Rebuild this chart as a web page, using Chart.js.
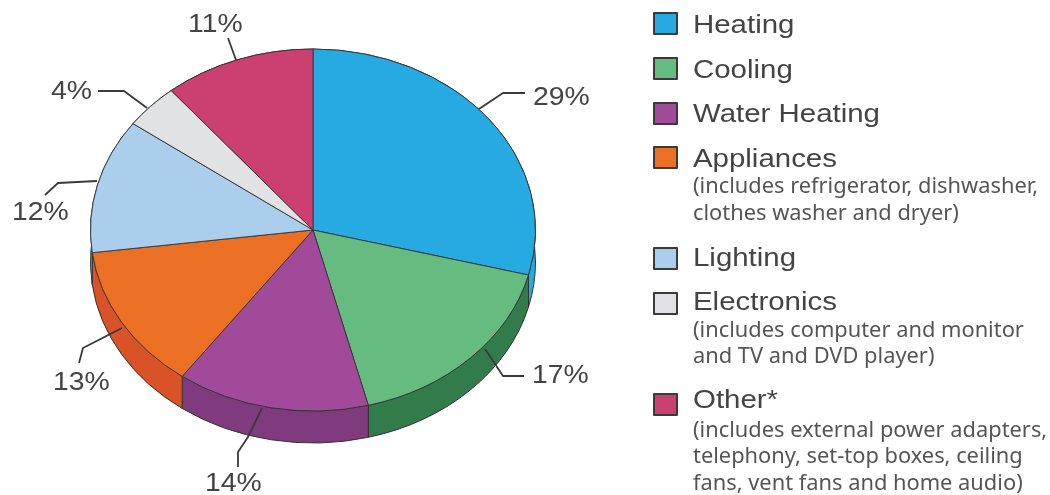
<!DOCTYPE html>
<html>
<head>
<meta charset="utf-8">
<title>Home energy use</title>
<script src="https://cdn.jsdelivr.net/npm/chart.js@4"></script>
<style>
  html, body { margin: 0; padding: 0; background: #fff; }
  #wrap { position: relative; width: 1050px; height: 495px; }
</style>
</head>
<body>
<div id="wrap"><canvas id="pie" width="1050" height="495"></canvas></div>
<script>
const categories = ['Heating', 'Cooling', 'Water Heating', 'Appliances', 'Lighting', 'Electronics', 'Other*'];
const values = [29, 17, 14, 13, 12, 4, 11];
const notes = [
    [],
    [],
    [],
    ['(includes refrigerator, dishwasher,', 'clothes washer and dryer)'],
    [],
    ['(includes computer and monitor', 'and TV and DVD player)'],
    ['(includes external power adapters,', 'telephony, set-top boxes, ceiling', 'fans, vent fans and home audio)']
];
const topColors = ['#27a9e1', '#66bc80', '#a04a99', '#ec7023', '#abceed', '#e0e2e4', '#cc4071'];
const sideColors = ['#27a9e1', '#327c4c', '#7f3b7e', '#da5227', '#5f9fcf', '#b0b2b4', '#96305a'];

// layout of the annotations
const squash = 181 / 222.5;
const depth = 32;
const stretch = 1.09;
const legendStretch = 1.11;
const noteStretch = 1.04;
const labelPos = [[533, 105], [532, 383], [205, 491], [53, 390], [12, 220], [51, 99], [188, 32]];
const leaders = [
    [[479, 109], [503, 93], [525, 93]],
    [[485, 349], [503, 376], [524, 376]],
    [[262, 408], [248, 437], [238, 452], [238, 467]],
    [[122, 328], [83, 348], [79, 363]],
    [[97, 181], [58, 183], [45, 195]],
    [[147, 108], [124, 91], [98, 91]],
    [[236, 60], [228, 38]]
];
const swatchTop = [12, 57, 102, 146, 247, 292, 393];
const legendBase = [32.5, 77.5, 122, 167, 266, 310, 408];
const noteBase = [[], [], [], [193, 220], [], [337, 363], [437, 463, 490]];

function stretchedText(ctx, text, x, y, sx) {
    ctx.save();
    ctx.translate(x, y);
    ctx.scale(sx, 1);
    ctx.fillText(text, 0, 0);
    ctx.restore();
}

const pieShape = {
    id: 'pieShape',
    beforeDatasetsDraw(chart) {
        const ctx = chart.ctx;
        const arcs = chart.getDatasetMeta(0).data;
        // side wall of the pie, hidden behind the top except at the front
        arcs.forEach((arc, i) => {
            const rx = arc.outerRadius;
            const ry = rx * squash;
            ctx.beginPath();
            ctx.ellipse(arc.x, arc.y + depth, rx, ry, 0, arc.startAngle, arc.endAngle);
            ctx.ellipse(arc.x, arc.y, rx, ry, 0, arc.endAngle, arc.startAngle, true);
            ctx.closePath();
            ctx.fillStyle = sideColors[i];
            ctx.fill();
            ctx.lineWidth = 1;
            ctx.strokeStyle = '#333';
            ctx.stroke();
        });
        const first = arcs[0];
        ctx.save();
        ctx.translate(first.x, first.y);
        ctx.scale(1, squash);
        ctx.translate(-first.x, -first.y);
    },
    afterDatasetsDraw(chart) {
        const ctx = chart.ctx;
        ctx.restore();

        // leader lines
        ctx.strokeStyle = '#3a3a3a';
        ctx.lineWidth = 1.8;
        ctx.lineJoin = 'round';
        leaders.forEach(line => {
            ctx.beginPath();
            line.forEach((p, i) => i ? ctx.lineTo(p[0], p[1]) : ctx.moveTo(p[0], p[1]));
            ctx.stroke();
        });

        // percent labels
        ctx.textAlign = 'left';
        ctx.textBaseline = 'alphabetic';
        ctx.fillStyle = '#444';
        ctx.font = '26px "Liberation Sans"';
        values.forEach((v, i) => stretchedText(ctx, v + '%', labelPos[i][0], labelPos[i][1], stretch));

        // legend
        categories.forEach((name, i) => {
            ctx.fillStyle = topColors[i];
            ctx.strokeStyle = '#3a3a3a';
            ctx.lineWidth = 2;
            ctx.fillRect(654, swatchTop[i] + 1, 23, 21);
            ctx.strokeRect(654, swatchTop[i] + 1, 23, 21);
            ctx.fillStyle = '#444';
            ctx.font = '26.5px "Liberation Sans"';
            stretchedText(ctx, name, 693, legendBase[i], legendStretch);
            ctx.fillStyle = '#555';
            ctx.font = '21px "Noto Sans"';
            notes[i].forEach((line, j) => stretchedText(ctx, line, 693, noteBase[i][j], noteStretch));
        });
    }
};

new Chart(document.getElementById('pie').getContext('2d'), {
    type: 'pie',
    data: {
        labels: categories,
        datasets: [{
            data: values,
            backgroundColor: topColors,
            borderColor: '#333',
            borderWidth: 1
        }]
    },
    options: {
        responsive: false,
        animation: false,
        devicePixelRatio: 1,
        layout: { padding: { left: 90, right: 514, top: 7, bottom: 42 } },
        plugins: {
            legend: { display: false },
            tooltip: { enabled: false }
        }
    },
    plugins: [pieShape]
});
</script>
</body>
</html>
